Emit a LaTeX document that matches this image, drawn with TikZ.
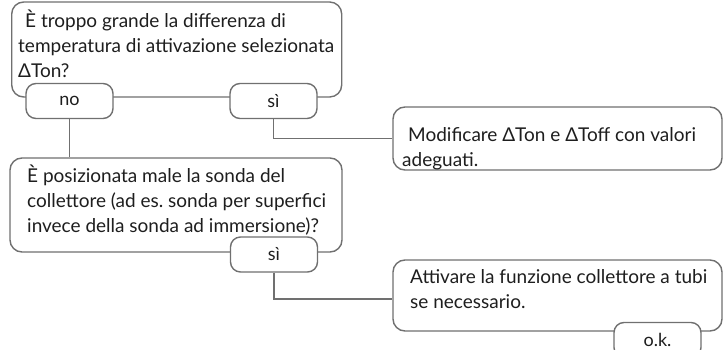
\documentclass[tikz,border=0pt]{standalone}
\usepackage{fontspec}
\setmainfont{Lato}
\definecolor{linegray}{RGB}{112,112,112}
\definecolor{textgray}{RGB}{30,30,30}
\newcommand{\firststrut}{\rule{0pt}{19pt}}
\begin{document}
\begin{tikzpicture}[x=1pt,y=-1pt,
  box/.style={draw=linegray, line width=1.4pt, rounded corners=12pt, fill=white, inner sep=0pt},
  lbl/.style={draw=linegray, line width=1.4pt, rounded corners=10pt, fill=white,
    minimum width=87pt, minimum height=35pt, inner sep=0pt,
    font=\fontsize{18}{22}\selectfont, text=textgray},
  txt/.style={anchor=north west, align=left, inner sep=0pt,
    font=\fontsize{19}{25}\selectfont, text=textgray},
  conn/.style={draw=linegray, line width=1.4pt}]
\useasboundingbox (0,0) rectangle (723,350);

% boxes
\node[box, minimum width=330pt, minimum height=95pt] (b1) at (176.7,49.5) {};
\node[box, minimum width=332pt, minimum height=94pt] (b2) at (176,205) {};
\node[box, minimum width=329pt, minimum height=63pt] (b3) at (557.5,138.5) {};
\node[box, minimum width=329pt, minimum height=71pt] (b4) at (557.5,295.5) {};

% texts (north west = baseline of first line minus 19pt)
\node[txt] (t1) at (18,8) {\firststrut\hspace*{7pt}È troppo grande la differenza di\\temperatura di attivazione selezionata\\ΔTon?};
\node[txt] (t2) at (27,163) {\firststrut È posizionata male la sonda del\\collettore (ad es.\ sonda per superfici\\invece della sonda ad immersione)?};
\node[txt] (t3) at (402,122) {\firststrut\hspace*{6pt}Modificare ΔTon e ΔToff con valori\\adeguati.};
\node[txt] (t4) at (410,264) {\firststrut Attivare la funzione collettore a tubi\\se necessario.};

% labels
\node[lbl] (no) at (69.5,101) {no};
\node[lbl] (si1) at (273.5,101) {sì};
\node[lbl] (si2) at (274,254.5) {sì};
\node[lbl] (ok) at (657.5,340) {o.k.};

% connectors
\draw[conn] (no.south) -- (no.south |- b2.north);
\draw[conn] (si1.south) |- (b3.west);
\draw[conn] (si2.south) |- ([yshift=-3.5pt]b4.west);
\end{tikzpicture}
\end{document}
